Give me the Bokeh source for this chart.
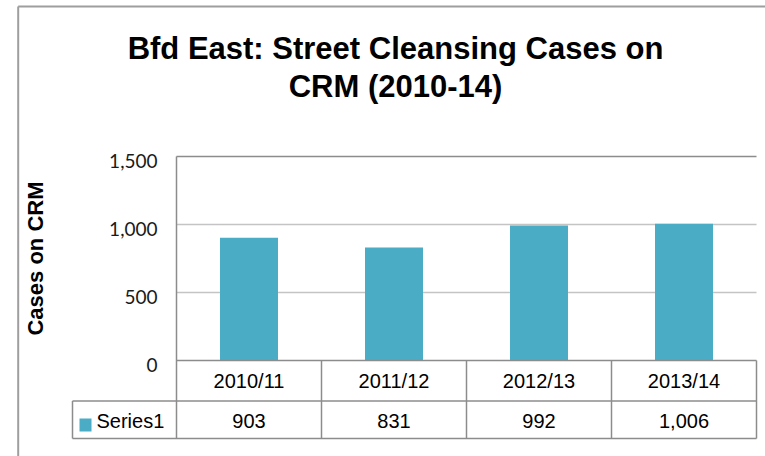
import math
from bokeh.plotting import figure
from bokeh.models import Range1d, ColumnDataSource
from bokeh.core.properties import value
from bokeh.embed import file_html
from bokeh.resources import INLINE

# ---- data ----
categories = ["2010/11", "2011/12", "2012/13", "2013/14"]
cases = [903, 831, 992, 1006]
series_name = "Series1"
y_ticks = [0, 500, 1000, 1500]
y_tick_labels = ["0", "500", "1,000", "1,500"]
title_lines = ["Bfd East: Street Cleansing Cases on", "CRM (2010-14)"]
y_title = "Cases on CRM"

# ---- layout constants ----
BAR_COLOR = "#4BACC6"
LINE_COLOR = "#8C8C8C"
GRID_COLOR = "#C4C4C4"
BORDER_COLOR = "#9E9E9E"
n = len(categories)
PX_PER_CAT = 145.0          # pixels per category column
PX_PER_VAL = 0.136          # pixels per case
X0_PX, Y0_PX = 176.0, 360.0  # pixel position of (first category edge, value 0)
W, H = 765, 456


def cx(px):
    return (px - X0_PX) / PX_PER_CAT


def cy(py):
    return (Y0_PX - py) / PX_PER_VAL


HEADER_BOTTOM = cy(400.5)
TABLE_BOTTOM = cy(438.0)
LEGEND_LEFT = cx(72.0)
FONT = value("Liberation Sans")

p = figure(width=W, height=H, output_backend="svg", toolbar_location=None,
           x_range=Range1d(cx(0), cx(W)), y_range=Range1d(cy(H), cy(0)),
           x_axis_location=None, y_axis_location=None,
           min_border_left=0, min_border_right=0, min_border_top=0, min_border_bottom=0)
p.grid.visible = False
p.outline_line_color = None
p.background_fill_color = "white"
p.border_fill_color = "white"

# outer chart border (left and top edges visible)
p.segment(x0=[cx(17.7), cx(17.7)], x1=[cx(17.7), cx(W + 5)],
          y0=[cy(H + 5), cy(6)], y1=[cy(6), cy(6)],
          line_color=BORDER_COLOR, line_width=2)

# title
p.text(x=[cx(395)] * 2, y=[cy(47.5), cy(85.5)], text=title_lines,
       text_font=FONT, text_font_size="31px", text_font_style="bold",
       text_align="center", text_baseline="alphabetic", text_color="black")

# gridlines and top border of plot area
inner = [t for t in y_ticks if 0 < t < max(y_ticks)]
p.segment(x0=[0] * len(inner), x1=[n] * len(inner), y0=inner, y1=inner,
          line_color=GRID_COLOR, line_width=1.5)
p.segment(x0=[0], x1=[n], y0=[max(y_ticks)], y1=[max(y_ticks)],
          line_color=LINE_COLOR, line_width=1.5)

# bars
xs = [i + 0.5 for i in range(n)]
src = ColumnDataSource(dict(x=xs, top=cases, cat=categories,
                            lab=["{:,}".format(v) for v in cases]))
p.vbar(x="x", top="top", bottom=0, width=0.4, source=src,
       fill_color=BAR_COLOR, line_color=None)

# data table lines
p.segment(x0=[0, LEGEND_LEFT, LEGEND_LEFT], x1=[n, n, n],
          y0=[0, HEADER_BOTTOM, TABLE_BOTTOM], y1=[0, HEADER_BOTTOM, TABLE_BOTTOM],
          line_color=LINE_COLOR, line_width=1.5)
vx = list(range(1, n + 1))
p.segment(x0=vx, x1=vx, y0=[TABLE_BOTTOM] * n, y1=[0] * n,
          line_color=LINE_COLOR, line_width=1.5)
p.segment(x0=[0, LEGEND_LEFT], x1=[0, LEGEND_LEFT],
          y0=[TABLE_BOTTOM, TABLE_BOTTOM], y1=[max(y_ticks), HEADER_BOTTOM],
          line_color=LINE_COLOR, line_width=1.5)

# data table texts
p.text(x="x", y=HEADER_BOTTOM / 2, text="cat", source=src,
       text_font=FONT, text_font_size="20px",
       text_align="center", text_baseline="middle", text_color="black")
row2 = (HEADER_BOTTOM + TABLE_BOTTOM) / 2
p.text(x="x", y=row2, text="lab", source=src, y_offset=1,
       text_font=FONT, text_font_size="20px",
       text_align="center", text_baseline="middle", text_color="black")
p.rect(x=[cx(85)], y=[cy(424.5)], width=12, height=13,
       width_units="screen", height_units="screen",
       fill_color=BAR_COLOR, line_color=None)
p.text(x=[cx(96)], y=[row2], text=[series_name], y_offset=1,
       text_font=FONT, text_font_size="20px",
       text_align="left", text_baseline="middle", text_color="black")

# y tick labels
p.text(x=[cx(157)] * len(y_ticks), y=y_ticks, text=y_tick_labels,
       y_offset=4, text_font=value("Lato"), text_font_size="19px",
       text_align="right", text_baseline="middle", text_color="#1a1a1a")

# y axis title
p.text(x=[cx(35)], y=[max(y_ticks) / 2], text=[y_title],
       angle=math.pi / 2, text_font=FONT, text_font_size="22px",
       text_font_style="bold", text_align="center", text_baseline="middle",
       text_color="black")

open("out.html", "w").write(file_html(p, INLINE))
